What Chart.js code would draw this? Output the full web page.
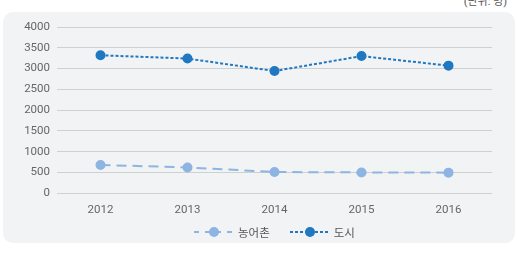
<!DOCTYPE html>
<html>
<head>
<meta charset="utf-8">
<script src="https://cdn.jsdelivr.net/npm/chart.js@4"></script>
<style>
  html, body { margin: 0; padding: 0; background: #fff; }
  #wrap { position: relative; width: 517px; height: 272px; overflow: hidden; }
  #card { position: absolute; left: 3px; top: 12px; width: 512px; height: 231px; background: #f2f3f4; border-radius: 10px; }
  #unit { position: absolute; right: 10px; top: -8px; font: 11px Roboto, 'Noto Sans CJK KR', sans-serif; color: #555; }
  #chart { position: absolute; left: 0; top: 0; }
  #legend { position: absolute; left: 57px; width: 435px; top: 224px; display: flex; justify-content: center; font: 11.5px 'Noto Sans CJK KR', sans-serif; color: #555; }
  #legend .item { display: flex; align-items: center; margin: 0 10px; }
  #legend canvas { margin-right: 4px; }
</style>
</head>
<body>
<div id="wrap">
  <div id="card"></div>
  <div id="unit">(단위: 명)</div>
  <canvas id="chart" width="517" height="272"></canvas>
  <div id="legend"></div>
</div>
<script>
var years = ['2012', '2013', '2014', '2015', '2016']
var rural = [680, 620, 510, 500, 495]
var city = [3320, 3240, 2940, 3300, 3070]
var yTicks = [0, 500, 1000, 1500, 2000, 2500, 3000, 3500, 4000]

var ruralColor = '#8db4e2'
var cityColor = '#1f78c1'
var legendDash = [[5, 6], [3, 2]]

// small legend swatch: dashed line with a dot in the middle
function swatch(color, dash) {
  var c = document.createElement('canvas')
  c.width = 40
  c.height = 12
  var g = c.getContext('2d')
  g.strokeStyle = color
  g.lineWidth = 2
  g.setLineDash(dash)
  g.beginPath()
  g.moveTo(0, 6)
  g.lineTo(40, 6)
  g.stroke()
  g.fillStyle = color
  g.beginPath()
  g.arc(20, 6, 5, 0, Math.PI * 2)
  g.fill()
  return c
}

var font = "Roboto, 'Noto Sans CJK KR', sans-serif"

var chart = new Chart(document.getElementById('chart'), {
  type: 'line',
  data: {
    labels: years,
    datasets: [
      {
        label: '농어촌',
        data: rural,
        borderColor: ruralColor,
        backgroundColor: ruralColor,
        borderWidth: 2,
        borderDash: [10, 6],
        pointRadius: 4,
        pointHoverRadius: 4,
        tension: 0,
      },
      {
        label: '도시',
        data: city,
        borderColor: cityColor,
        backgroundColor: cityColor,
        borderWidth: 2,
        borderDash: [3, 2],
        pointRadius: 4,
        pointHoverRadius: 4,
        tension: 0,
      },
    ],
  },
  options: {
    responsive: false,
    animation: false,
    layout: { padding: { left: 0, right: 25, top: 27, bottom: 53 } },
    plugins: {
      tooltip: { enabled: false },
      legend: { display: false },
    },
    scales: {
      x: {
        offset: true,
        grid: { display: false },
        border: { display: false },
        ticks: { color: '#666', padding: 2, font: { family: font, size: 11.5 } },
      },
      y: {
        min: 0,
        max: 4000,
        afterFit: (scale) => { scale.width = 57 },
        afterBuildTicks: (scale) => { scale.ticks = yTicks.map((v) => ({ value: v })) },
        grid: { color: '#cfd0d1', lineWidth: 1, drawTicks: false },
        border: { display: false },
        ticks: {
          color: '#666',
          padding: 7,
          font: { family: font, size: 11.5 },
          callback: (v) => String(v),
        },
      },
    },
  },
})

// legend built from the datasets
var legend = document.getElementById('legend')
chart.data.datasets.forEach((ds, i) => {
  var item = document.createElement('div')
  item.className = 'item'
  item.appendChild(swatch(ds.borderColor, legendDash[i]))
  var label = document.createElement('span')
  label.textContent = ds.label
  item.appendChild(label)
  legend.appendChild(item)
})
</script>
</body>
</html>
